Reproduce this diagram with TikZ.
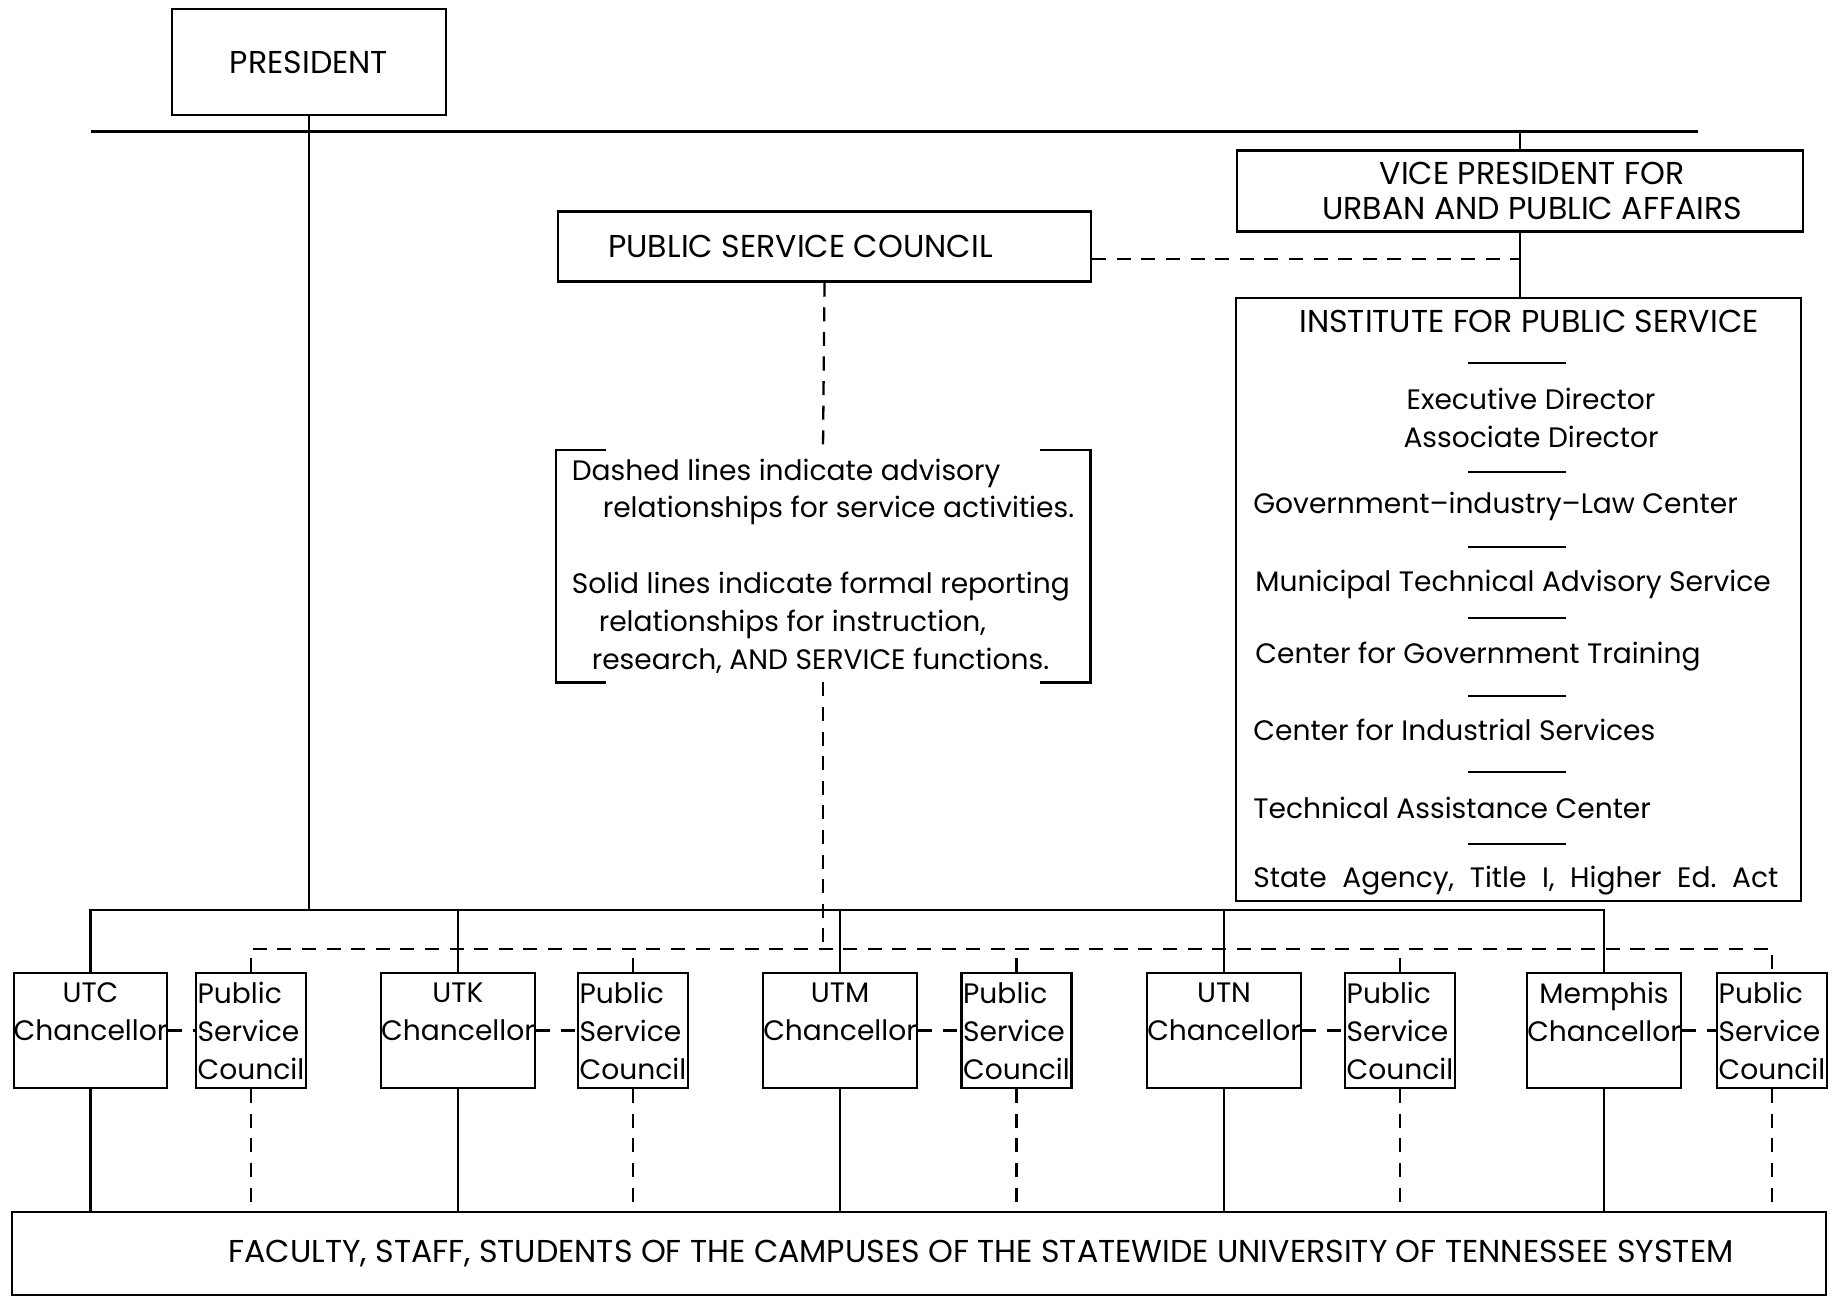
\documentclass[tikz,border=0pt]{standalone}
\usepackage{fontspec}
\setmainfont{Poppins}
\usetikzlibrary{positioning}
\newcommand{\orgfont}{\fontsize{16}{21.6}\selectfont}
\newcommand{\capfont}{\fontsize{18}{20}\selectfont}

\begin{document}
\begin{tikzpicture}[
    box/.style={draw, line width=1.3pt, align=center, font=\orgfont,
                inner sep=1pt},
    chan/.style={box, minimum width=3.04cm, minimum height=2.3cm,
                 inner xsep=0pt},
    cncl/.style={box, align=left, minimum width=2.2cm,
                 minimum height=2.3cm, inner xsep=1pt},
    lbl/.style={font=\orgfont, inner sep=0pt},
    rep/.style={line width=1.3pt},
    adv/.style={line width=1.3pt, dash pattern=on 8pt off 6pt}
]
\useasboundingbox (0,0) rectangle (36.78,-25.94);

% top of the chart
\node[box, font=\capfont, minimum width=5.48cm, minimum height=2.12cm] (pres)
    at (6.18,-1.24) {PRESIDENT};
\node[box, font=\capfont, minimum width=11.32cm, minimum height=1.62cm] (vp)
    at (30.40,-3.82)
    {\hspace*{0.48cm}VICE PRESIDENT FOR\\\hspace*{0.48cm}URBAN AND PUBLIC AFFAIRS};
\node[box, font=\capfont, minimum width=10.66cm, minimum height=1.40cm] (psc)
    at (16.49,-4.93) {PUBLIC SERVICE COUNCIL\hspace*{0.96cm}};

\coordinate (topL) at (1.82,-2.63);
\coordinate (topR) at (33.96,-2.63);
\coordinate (sbus) at (0,-18.20);
\coordinate (dbus) at (0,-18.98);

% institute
\node[box, minimum width=11.30cm, minimum height=12.06cm] (ips) at (30.37,-11.99) {};
\node[lbl, font=\capfont] (ipstitle) at (30.58,-6.42) {INSTITUTE FOR PUBLIC SERVICE};
\node[lbl, align=center] (ipsdir) at (30.62,-8.36)
    {Executive Director\\Associate Director};
\node[lbl, anchor=west] (gil) at (25.06,-10.12) {Government--industry--Law Center};
\node[lbl, anchor=west] (mtas) at (25.10,-11.68) {Municipal Technical Advisory Service};
\node[lbl, anchor=west] (cgt) at (25.10,-13.14) {Center for Government Training};
\node[lbl, anchor=west] (cis) at (25.06,-14.60) {Center for Industrial Services};
\node[lbl, anchor=west] (tac) at (25.06,-16.16) {Technical Assistance Center};
\node[lbl, anchor=west] (sa) at (25.06,-17.62)
    {\makebox[10.5cm][s]{State Agency,\ Title I,\ Higher Ed.\ Act}};

\draw[rep] (29.36,-7.26) -- (31.32,-7.26);
\draw[rep] (29.36,-9.44) -- (31.32,-9.44);
\draw[rep] (29.36,-10.94) -- (31.32,-10.94);
\draw[rep] (29.36,-12.36) -- (31.32,-12.36);
\draw[rep] (29.36,-13.92) -- (31.32,-13.92);
\draw[rep] (29.36,-15.44) -- (31.32,-15.44);
\draw[rep] (29.36,-16.88) -- (31.32,-16.88);

% legend
\node[font=\orgfont, align=left, inner sep=0pt, minimum width=10.68cm,
      minimum height=4.64cm] (note) at (16.46,-11.32)
    {Dashed lines indicate advisory\\
     \hspace*{0.62cm}relationships for service activities.\\[0.75cm]
     Solid lines indicate formal reporting\\
     \hspace*{0.54cm}relationships for instruction,\\
     \hspace*{0.40cm}research, AND SERVICE functions.};
\draw[rep] ([xshift=1cm]note.north west) -- (note.north west)
    -- (note.south west) -- ++(1,0);
\draw[rep] ([xshift=-1cm]note.north east) -- (note.north east)
    -- (note.south east) -- ++(-1,0);

% campuses
\node[chan] (utc) at (1.81,-20.61) {UTC\\Chancellor\\\mbox{}};
\node[cncl] (pscutc) at (5.02,-20.61) {Public\\Service\\Council};
\node[chan] (utk) at (9.16,-20.61) {UTK\\Chancellor\\\mbox{}};
\node[cncl] (pscutk) at (12.66,-20.61) {Public\\Service\\Council};
\node[chan] (utm) at (16.80,-20.61) {UTM\\Chancellor\\\mbox{}};
\node[cncl] (pscutm) at (20.33,-20.61) {Public\\Service\\Council};
\node[chan] (utn) at (24.48,-20.61) {UTN\\Chancellor\\\mbox{}};
\node[cncl] (pscutn) at (28.00,-20.61) {Public\\Service\\Council};
\node[chan] (mem) at (32.08,-20.61) {Memphis\\Chancellor\\\mbox{}};
\node[cncl] (pscmem) at (35.44,-20.61) {Public\\Service\\Council};

\node[box, font=\capfont, minimum width=36.28cm, minimum height=1.66cm] (fac)
    at (18.38,-25.07)
    {\hspace*{2.48cm}FACULTY, STAFF, STUDENTS OF THE CAMPUSES OF THE STATEWIDE
     UNIVERSITY OF TENNESSEE SYSTEM};

% formal reporting
\draw[rep] (topL) -- (topR);
\draw[rep] (pres.south) -- (pres.south |- sbus);
\draw[rep] (vp.north |- topL) -- (vp.north);
\draw[rep] (vp.south) -- (vp.south |- ips.north);
\draw[rep] (utc.north) |- (sbus -| mem.north) -- (mem.north);
\draw[rep] (utk.north) -- (utk.north |- sbus)
           (utm.north) -- (utm.north |- sbus)
           (utn.north) -- (utn.north |- sbus);
\draw[rep] (utc.south) -- (utc.south |- fac.north)
           (utk.south) -- (utk.south |- fac.north)
           (utm.south) -- (utm.south |- fac.north)
           (utn.south) -- (utn.south |- fac.north)
           (mem.south) -- (mem.south |- fac.north);

% advisory
\draw[adv] ([yshift=-0.25cm]psc.east) -- ([yshift=-0.25cm]psc.east -| vp.south);
\draw[adv] (psc.south) -- (note.north);
\draw[adv] (note.south) -- (note.south |- dbus);
\draw[adv] (pscutc.north) |- (dbus -| pscmem.north) -- (pscmem.north);
\draw[adv] (pscutk.north) -- (pscutk.north |- dbus)
           (pscutm.north) -- (pscutm.north |- dbus)
           (pscutn.north) -- (pscutn.north |- dbus);
\draw[adv] (utc.east) -- (pscutc.west)
           (utk.east) -- (pscutk.west)
           (utm.east) -- (pscutm.west)
           (utn.east) -- (pscutn.west)
           (mem.east) -- (pscmem.west);
\draw[adv] (pscutc.south) -- (pscutc.south |- fac.north)
           (pscutk.south) -- (pscutk.south |- fac.north)
           (pscutm.south) -- (pscutm.south |- fac.north)
           (pscutn.south) -- (pscutn.south |- fac.north)
           (pscmem.south) -- (pscmem.south |- fac.north);

\end{tikzpicture}
\end{document}
